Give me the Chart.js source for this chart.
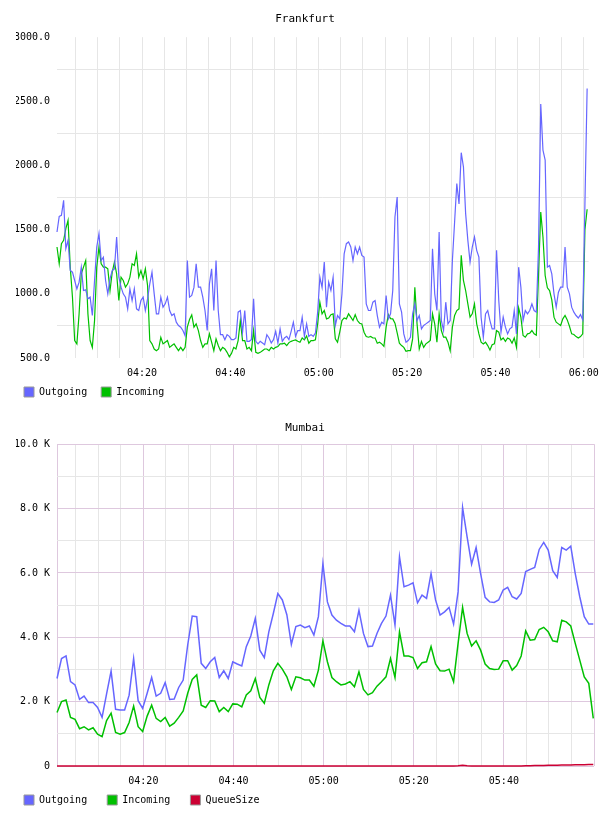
<!DOCTYPE html>
<html lang="en">
<head>
    <meta charset="UTF-8">
    <title>Frankfurt / Mumbai</title>
    <style>
        body {
            margin: 0;
            background: #ffffff;
            width: 608px;
            height: 816px;
            position: relative;
            overflow: hidden;
        }
        canvas {
            position: absolute;
            left: 0;
        }
        #frankfurt { top: 0; }
        #mumbai { top: 407px; }
    </style>
    <script src="https://cdn.jsdelivr.net/npm/chart.js"></script>
</head>
<body>

<canvas id="frankfurt" width="608" height="408"></canvas>
<canvas id="mumbai" width="608" height="409"></canvas>

<script>
    // time axis: minutes after 04:00
    var gridMinutes = [5, 10, 15, 20, 25, 30, 35, 40, 45, 50, 55, 60, 65, 70, 75, 80, 85, 90, 95, 100, 105, 110, 115, 120];
    var labelMinutes = [20, 40, 60, 80, 100, 120];
    var labelTexts = ['04:20', '04:40', '05:00', '05:20', '05:40', '06:00'];

    // Frankfurt: one sample every 30 s, first one at 04:00:45
    var frankfurtStart = 0.75;
    var frankfurtStep = 0.5;
    var frankfurtOutgoing = [
        1482, 1604, 1612, 1729, 1352, 1417, 1182, 1169, 1104, 1039, 1091, 1208, 1026, 1031, 961, 974, 831, 1104, 1365, 1469,
        1260, 1286, 1104, 1000, 1117, 1182, 1195, 1443, 1130, 1052, 1000, 974, 883, 1039, 948, 1039, 883, 870, 948, 974,
        870, 961, 1078, 1169, 1000, 844, 844, 974, 896, 922, 974, 870, 831, 844, 779, 753, 740, 714, 674, 1260,
        974, 987, 1050, 1235, 1052, 1052, 974, 870, 714, 1078, 1195, 870, 1260, 870, 682, 682, 643, 682, 669, 643,
        643, 656, 857, 870, 700, 870, 630, 630, 643, 961, 630, 610, 630, 617, 604, 682, 656, 617, 643, 708,
        617, 727, 630, 656, 669, 643, 708, 779, 669, 714, 714, 818, 669, 766, 669, 682, 669, 695, 857, 1130,
        1050, 1247, 896, 1091, 1026, 1130, 753, 831, 805, 1000, 1312, 1391, 1404, 1365, 1260, 1365, 1312, 1365, 1300, 1286,
        922, 870, 870, 935, 948, 831, 740, 779, 766, 987, 805, 844, 1026, 1599, 1755, 922, 857, 688, 623, 636,
        662, 844, 922, 792, 831, 727, 753, 766, 779, 792, 1352, 1000, 870, 1482, 792, 714, 935, 766, 792, 1260,
        1560, 1860, 1700, 2100, 1990, 1625, 1417, 1247, 1365, 1443, 1339, 1286, 818, 661, 844, 870, 792, 727, 727, 1339,
        948, 701, 818, 740, 688, 727, 740, 870, 688, 1208, 1052, 792, 870, 844, 870, 922, 870, 857, 1365, 2480,
        2120, 2042, 1208, 1221, 1156, 1000, 896, 1013, 1052, 1052, 1365, 1052, 1000, 896, 857, 831, 812, 838, 797, 1700,
        2600
    ];
    var frankfurtIncoming = [
        1365, 1234, 1391, 1417, 1508, 1573, 1208, 974, 636, 610, 844, 1156, 1208, 1260, 844, 636, 583, 792, 1208, 1365,
        1234, 1208, 1208, 1195, 1026, 1169, 1247, 1156, 948, 1130, 1104, 1052, 1078, 1130, 1234, 1221, 1312, 1130, 1182, 1117,
        1195, 1065, 636, 610, 570, 557, 570, 661, 610, 623, 636, 583, 597, 610, 583, 557, 583, 557, 583, 740,
        800, 836, 740, 766, 714, 636, 583, 610, 610, 688, 623, 557, 649, 597, 557, 583, 570, 544, 510, 536,
        583, 570, 636, 792, 636, 636, 570, 583, 557, 714, 544, 536, 544, 557, 570, 570, 557, 583, 570, 583,
        589, 610, 610, 615, 597, 620, 630, 636, 641, 630, 623, 656, 641, 672, 615, 636, 636, 641, 766, 935,
        844, 870, 805, 812, 838, 844, 649, 623, 701, 792, 812, 805, 844, 818, 792, 838, 792, 771, 766, 701,
        668, 662, 668, 656, 656, 615, 623, 610, 591, 740, 838, 807, 805, 771, 696, 615, 597, 583, 552, 557,
        557, 649, 1052, 766, 570, 630, 583, 610, 623, 636, 844, 766, 623, 844, 714, 662, 662, 623, 557, 740,
        831, 870, 883, 1300, 1104, 1026, 922, 818, 844, 922, 766, 688, 623, 610, 623, 597, 562, 604, 610, 714,
        701, 641, 656, 630, 656, 646, 615, 656, 583, 891, 818, 675, 662, 688, 693, 714, 688, 677, 1156, 1638,
        1443, 1143, 1047, 1026, 953, 818, 779, 766, 753, 805, 831, 797, 747, 688, 683, 667, 656, 667, 688, 1500,
        1659
    ];

    // Mumbai: one sample per minute, first one at 04:00:50
    var mumbaiStart = 0.84;
    var mumbaiStep = 1;
    var mumbaiOutgoing = [
        2720, 3340, 3420, 2620, 2520, 2070, 2170, 1970, 1970, 1820, 1510, 2240, 2950, 1760, 1740, 1740, 2200, 3340, 2030, 1790,
        2260, 2750, 2170, 2260, 2590, 2070, 2080, 2440, 2670, 3760, 4660, 4640, 3190, 3030, 3240, 3370, 2750, 2960, 2720, 3240,
        3170, 3110, 3710, 4040, 4590, 3600, 3370, 4170, 4740, 5360, 5160, 4700, 3780, 4330, 4380, 4300, 4350, 4070, 4640, 6290,
        5100, 4690, 4530, 4430, 4350, 4350, 4170, 4840, 4120, 3710, 3730, 4120, 4430, 4660, 5310, 4380, 6500, 5570, 5620, 5690,
        5070, 5310, 5210, 5980, 5160, 4690, 4790, 4930, 4410, 5410, 8030, 7120, 6270, 6790, 5980, 5240, 5100, 5080, 5160, 5470,
        5550, 5260, 5190, 5360, 6040, 6110, 6170, 6730, 6950, 6710, 6070, 5860, 6790, 6710, 6830, 5980, 5260, 4640, 4410, 4410
    ];
    var mumbaiIncoming = [
        1660, 2000, 2050, 1510, 1450, 1160, 1220, 1120, 1190, 990, 910, 1410, 1640, 1040, 990, 1040, 1350, 1860, 1220, 1070,
        1550, 1890, 1480, 1380, 1510, 1240, 1330, 1510, 1710, 2260, 2690, 2830, 1890, 1820, 2030, 2020, 1690, 1820, 1690, 1930,
        1920, 1840, 2210, 2340, 2720, 2130, 1950, 2520, 2960, 3190, 3010, 2770, 2380, 2770, 2740, 2670, 2670, 2480, 2980, 3890,
        3240, 2750, 2620, 2520, 2550, 2620, 2460, 2930, 2380, 2210, 2280, 2480, 2620, 2770, 3340, 2750, 4170, 3420, 3420, 3370,
        3030, 3210, 3240, 3710, 3170, 2960, 2950, 3010, 2620, 3810, 4930, 4120, 3730, 3890, 3600, 3170, 3030, 3000, 3010, 3270,
        3270, 2980, 3120, 3420, 4200, 3910, 3930, 4240, 4310, 4170, 3890, 3860, 4530, 4480, 4350, 3810, 3290, 2770, 2570, 1480
    ];
    var mumbaiQueueSize = [
        0, 0, 0, 0, 0, 0, 0, 0, 0, 0, 0, 0, 0, 0, 0, 0, 0, 0, 0, 0,
        0, 0, 0, 0, 0, 0, 0, 0, 0, 0, 0, 0, 0, 0, 0, 0, 0, 0, 0, 0,
        0, 0, 0, 0, 0, 0, 0, 0, 0, 0, 0, 0, 0, 0, 0, 0, 0, 0, 0, 0,
        0, 0, 0, 0, 0, 0, 0, 0, 0, 0, 0, 0, 0, 0, 0, 0, 0, 0, 0, 0,
        0, 0, 0, 0, 0, 0, 0, 0, 0, 10, 25, 10, 0, 0, 0, 0, 0, 0, 0, 0,
        0, 0, 0, 0, 5, 10, 12, 15, 18, 20, 22, 25, 28, 30, 33, 35, 38, 40, 45, 50
    ];

    var colOut = '#6666ff';
    var colIn = '#00c000';
    var colQueue = '#cc0033';
    var gridGrey = '#e6e6e6';
    var gridMajor = '#dec8de';
    var mono = 'DejaVu Sans Mono';

    function toPoints(values, start, step) {
        return values.map(function (v, i) { return { x: start + i * step, y: v }; });
    }

    function timeLabel(v) {
        var k = labelMinutes.indexOf(v);
        return k >= 0 ? labelTexts[k] : '';
    }

    // legend entries sit in fixed-width columns, so pad the text
    function legendLabels(cols) {
        return function (chart) {
            return Chart.defaults.plugins.legend.labels.generateLabels(chart).map(function (l) {
                l.text = l.text.padEnd(cols);
                l.strokeStyle = '#999999';
                l.lineWidth = 1;
                return l;
            });
        };
    }

    function lineSet(label, values, start, step, color, width) {
        return {
            label: label,
            data: toPoints(values, start, step),
            borderColor: color,
            backgroundColor: color,
            borderWidth: width,
            pointRadius: 0,
            tension: 0,
            clip: 4
        };
    }

    function commonOptions(title, titlePad, cols) {
        return {
            responsive: false,
            animation: false,
            devicePixelRatio: 1,
            layout: { padding: { left: 16, right: 14, top: 0, bottom: 1 } },
            plugins: {
                title: {
                    display: true,
                    text: title,
                    color: '#000000',
                    font: { family: mono, size: 11, weight: 'normal' },
                    padding: titlePad
                },
                legend: {
                    position: 'bottom',
                    align: 'start',
                    labels: {
                        boxWidth: 10,
                        boxHeight: 10,
                        padding: 8,
                        color: '#000000',
                        font: { family: mono, size: 10 },
                        generateLabels: legendLabels(cols)
                    }
                },
                tooltip: { enabled: false }
            }
        };
    }

    // Frankfurt
    var fOptions = commonOptions('Frankfurt', { top: 13, bottom: 11 }, 9);
    fOptions.scales = {
        x: {
            type: 'linear',
            min: frankfurtStart,
            max: 121.1,
            afterBuildTicks: function (s) { s.ticks = gridMinutes.map(function (v) { return { value: v }; }); },
            afterFit: function (s) { s.height = 21; },
            ticks: {
                autoSkip: false,
                maxRotation: 0,
                padding: 9,
                color: '#000000',
                font: { family: mono, size: 10 },
                callback: function (v) { return timeLabel(v); }
            },
            grid: { color: gridGrey, drawTicks: false },
            border: { display: false }
        },
        y: {
            min: 500,
            max: 3000,
            afterFit: function (s) { s.width = 41; },
            ticks: {
                stepSize: 250,
                autoSkip: false,
                padding: 7,
                color: '#000000',
                font: { family: mono, size: 10 },
                callback: function (v) { return v % 500 === 0 ? v.toFixed(1) : ''; }
            },
            grid: {
                drawTicks: false,
                color: function (c) { return c.tick && c.tick.value % 500 === 0 ? 'rgba(0,0,0,0)' : gridGrey; }
            },
            border: { display: false }
        }
    };

    new Chart(document.getElementById('frankfurt').getContext('2d'), {
        type: 'line',
        data: {
            datasets: [
                lineSet('Outgoing', frankfurtOutgoing, frankfurtStart, frankfurtStep, colOut, 1.2),
                lineSet('Incoming', frankfurtIncoming, frankfurtStart, frankfurtStep, colIn, 1.2)
            ]
        },
        options: fOptions
    });

    // Mumbai
    var mMin = 0.836;
    var mOptions = commonOptions('Mumbai', { top: 15, bottom: 9 }, 10);
    mOptions.scales = {
        x: {
            type: 'linear',
            min: mMin,
            max: 120,
            afterBuildTicks: function (s) {
                s.ticks = [{ value: mMin }].concat(gridMinutes.map(function (v) { return { value: v }; }));
            },
            afterFit: function (s) { s.height = 21; },
            ticks: {
                autoSkip: false,
                maxRotation: 0,
                padding: 9,
                color: '#000000',
                font: { family: mono, size: 10 },
                callback: function (v) { return v < 120 ? timeLabel(v) : ''; }
            },
            grid: {
                drawTicks: false,
                color: function (c) {
                    var v = c.tick ? c.tick.value : 0;
                    return (v === mMin || v % 20 === 0) ? gridMajor : gridGrey;
                }
            },
            border: { display: false }
        },
        y: {
            min: 0,
            max: 10000,
            afterFit: function (s) { s.width = 41; },
            ticks: {
                stepSize: 1000,
                autoSkip: false,
                padding: 7,
                color: '#000000',
                font: { family: mono, size: 10 },
                callback: function (v) {
                    if (v === 0) return '0';
                    return v % 2000 === 0 ? (v / 1000).toFixed(1) + ' K' : '';
                }
            },
            grid: {
                drawTicks: false,
                color: function (c) { return c.tick && c.tick.value % 2000 === 0 ? gridMajor : gridGrey; }
            },
            border: { display: false }
        }
    };

    new Chart(document.getElementById('mumbai').getContext('2d'), {
        type: 'line',
        data: {
            datasets: [
                lineSet('Outgoing', mumbaiOutgoing, mumbaiStart, mumbaiStep, colOut, 1.5),
                lineSet('Incoming', mumbaiIncoming, mumbaiStart, mumbaiStep, colIn, 1.5),
                lineSet('QueueSize', mumbaiQueueSize, mumbaiStart, mumbaiStep, colQueue, 1.5)
            ]
        },
        options: mOptions
    });
</script>

</body>
</html>
